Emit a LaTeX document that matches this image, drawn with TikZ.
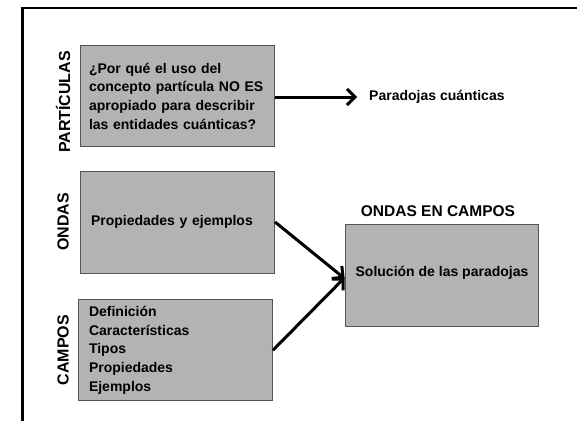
\documentclass[tikz,border=0pt]{standalone}
\usepackage{fontspec}
\setmainfont{Liberation Sans}
\usetikzlibrary{arrows.meta,positioning}
\definecolor{boxgray}{RGB}{179,179,179}
\definecolor{edgegray}{RGB}{85,85,85}
\tikzset{
	box/.style={draw=edgegray, line width=0.9pt, fill=boxgray, minimum height=101pt,
		inner xsep=10pt, align=left, font=\bfseries\fontsize{14}{18.8}\selectfont},
	side/.style={rotate=90, font=\bfseries\fontsize{16}{18}\selectfont},
	link/.style={line width=3pt, -{Straight Barb[length=8pt,width=16pt,line width=3pt]}}
}
\begin{document}
\begin{tikzpicture}[x=1pt, y=-1pt]
	\useasboundingbox (0,0) rectangle (577,420);
	\draw[line width=2.7pt] (22.5,421) -- (22.5,8) -- (578,8);

	\node[box, text width=176.6pt, inner xsep=9pt](part) at (177.3, 96.3){¿Por qué el uso del\\concepto partícula NO ES\\apropiado para describir\\las entidades cuánticas?};
	\node[box, text width=172.6pt, inner xsep=11pt, minimum height=102pt](ondas) at (177.3, 222){Propiedades y ejemplos};
	\node[box, text width=172.4pt, inner xsep=11pt](campos) at (175.2, 350.3){Definición\\Características\\Tipos\\Propiedades\\Ejemplos};
	\node[box, align=center, inner xsep=4pt, minimum width=193.8pt, minimum height=102pt, text depth=9pt](sol) at (442, 275.6){Solución de las paradojas};

	\node[anchor=west, inner xsep=12pt, font=\bfseries\fontsize{14}{18}\selectfont](parad) at (357, 97){Paradojas cuánticas};
	\node[above=4pt of sol, xshift=-4pt, font=\bfseries\fontsize{15.5}{18}\selectfont](head){ONDAS EN CAMPOS};

	\node[side](lpart) at (63, 102){PARTÍCULAS};
	\node[side](londas) at (63, 222){ONDAS};
	\node[side](lcampos) at (63, 350){CAMPOS};

	\draw[link] (part.east |- parad.west) -- (parad.west);
	\draw[link] (ondas.east) -- ([yshift=-3pt]sol.west);
	\draw[link] (campos.east) -- ([yshift=-2pt]sol.west);
\end{tikzpicture}
\end{document}
